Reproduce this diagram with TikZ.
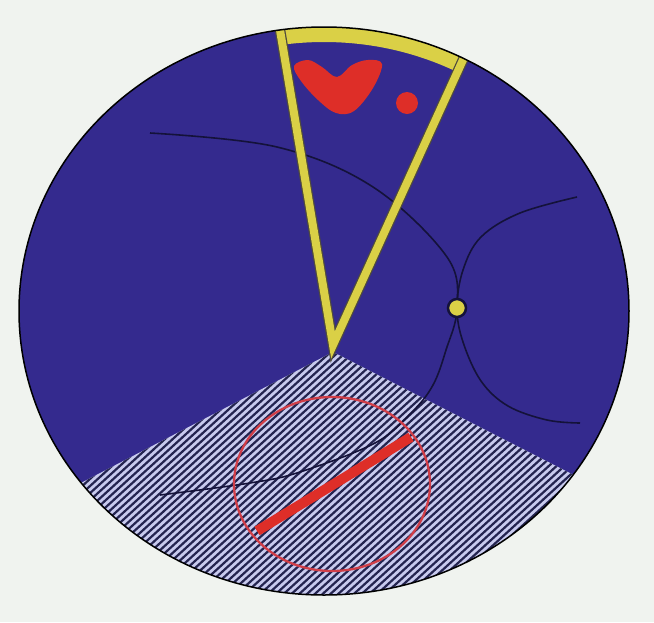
\documentclass[tikz,border=0pt]{standalone}
\usepackage{xcolor}
\usepackage{tikz}
\usetikzlibrary{calc}

\definecolor{paper}{RGB}{240,243,239}
\definecolor{discblue}{RGB}{52,42,142}
\definecolor{hatchbg}{RGB}{200,202,238}
\definecolor{hatchink}{RGB}{36,36,80}
\definecolor{wedgeyellow}{RGB}{218,208,70}
\definecolor{blobred}{RGB}{222,46,40}
\definecolor{ringred}{RGB}{208,62,72}
\definecolor{curveink}{RGB}{20,18,58}

\begin{document}
\begin{tikzpicture}[x=1pt, y=-1pt,
    disc/.style={x radius=305pt, y radius=284pt},
    separatrix/.style={curveink, line width=1.6}]
    % Paper
    \fill[paper] (0,0) rectangle (654,622);
    \useasboundingbox (0,0) rectangle (654,622);

    % Disc
    \fill[discblue] (324,311) ellipse [disc];

    % Hatched sector
    \begin{scope}
        \clip (324,311) ellipse [disc];
        \clip (333,352) -- (0,525) -- (0,640) -- (654,640) -- (654,516) -- cycle;
        \fill[hatchbg] (0,0) rectangle (654,622);
        \foreach \k in {-36,...,80}
            \draw[hatchink, line width=2.2] ({\k*7.8},625) -- ++(340,-310);
    \end{scope}

    % Field lines through the X point
    \draw[separatrix] plot[smooth, tension=0.6] coordinates {(150,133) (277,147) (373,187) (447,257) (457,308) (446,350) (433,385) (412,412) (375,443) (300,472) (250,483) (160,495)};
    \draw[separatrix] plot[smooth, tension=0.6] coordinates {(577,197) (520,213) (481,237) (463,270) (457,308) (463,342) (481,381) (508,406) (547,420) (580,423)};

    % Red ring and bar
    \draw[ringred, line width=2.3] (332,484) ellipse [x radius=98pt, y radius=87pt];
    \draw[blobred, line width=10] (257,531) -- (411,437);

    % Yellow wedge
    \begin{scope}
        \clip (324,311) ellipse [disc];
        \begin{scope}
            \clip (333,345) -- ($(333,345)!2!(280,30)$) -- ($(333,345)!2!(462,62)$) -- cycle;
            \draw[wedgeyellow, line width=30] (324,311) ellipse [disc];
        \end{scope}
        \draw[curveink!70!wedgeyellow, line width=10.5] ($(333,345)!1.1!(280,30)$) -- (333,345) -- ($(333,345)!1.1!(462,62)$);
        \draw[wedgeyellow, line width=8] ($(333,345)!1.1!(280,30)$) -- (333,345) -- ($(333,345)!1.1!(462,62)$);
    \end{scope}

    % Red blobs
    \fill[blobred] plot[smooth cycle, tension=0.6] coordinates {(294,66) (308,60) (322,67) (337,77) (352,65) (368,60) (382,64) (373,88) (354,111) (336,113) (318,100) (301,81)};
    \fill[blobred] (407,103) circle (11pt);

    % X point
    \filldraw[fill=wedgeyellow, draw=curveink, line width=2.5] (457,308) circle (9pt);

    % Rim
    \draw[black, line width=1.5] (324,311) ellipse [disc];
\end{tikzpicture}
\end{document}
